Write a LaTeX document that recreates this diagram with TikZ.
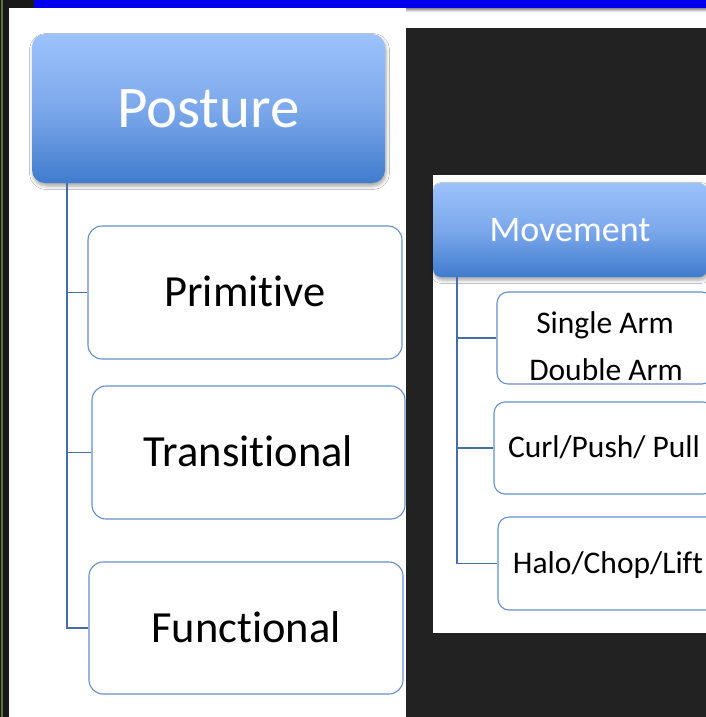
\documentclass[tikz,border=0pt]{standalone}
\usepackage{fontspec}
\setmainfont{Carlito}[Ligatures=NoCommon]
\usetikzlibrary{shadows.blur}

\definecolor{bgdark}{RGB}{34,34,34}
\definecolor{edgedark}{RGB}{24,24,24}
\definecolor{edgegreen}{RGB}{88,118,58}
\definecolor{topbar}{RGB}{0,0,238}
\definecolor{hdrtop}{RGB}{156,194,251}
\definecolor{hdrmid}{RGB}{124,168,235}
\definecolor{hdrbot}{RGB}{64,124,205}
\definecolor{boxline}{RGB}{100,144,205}
\definecolor{connline}{RGB}{70,110,168}

\begin{document}
\begin{tikzpicture}[x=1pt,y=-1pt,
  header/.style={rounded corners=#1, top color=hdrtop, bottom color=hdrbot,
    middle color=hdrmid, draw=none, text=white, inner sep=0pt,
    blur shadow={shadow xshift=1pt, shadow yshift=-3pt,
      shadow blur radius=3.5pt, shadow opacity=35}},
  item/.style={rounded corners=#1, draw=boxline, line width=1.1pt,
    fill=white, text=black, inner sep=0pt},
  conn/.style={draw=connline, line width=1.4pt},
  bigtitle/.style={font=\fontsize{59}{70}\selectfont, text height=37.3pt, text depth=0pt},
  bigitem/.style={font=\fontsize{44.5}{53}\selectfont, text height=28.1pt, text depth=0pt},
  smalltitle/.style={font=\fontsize{36}{43}\selectfont, text height=22.8pt, text depth=0pt},
  smallitem/.style={font=\fontsize{31.5}{38}\selectfont, text height=19.9pt, text depth=0pt},
]
\useasboundingbox (0,0) rectangle (706,717);
\clip (0,0) rectangle (706,717);

% backgrounds
\fill[bgdark] (0,0) rectangle (706,717);
\fill[edgedark] (0,0) rectangle (9,717);
\draw[edgegreen, line width=1.5pt] (2,0) -- (2,717);
\fill[black!90] (9,0) rectangle (34,8);
\fill[white] (9,8) rectangle (406,717);
\fill[white] (406,8) rectangle (706,28);
\shade[top color=black!45, bottom color=white] (406,8) rectangle (706,12);
\fill[topbar] (34,0) rectangle (706,8);
\fill[white] (433,175) rectangle (706,633);

% left tree
\node[header=13pt, bigtitle, minimum width=353pt, minimum height=149pt]
  (posture) at (208.5,108.5) {Posture};
\node[item=14pt, bigitem, minimum width=314pt, minimum height=133pt]
  (prim) at (245,292.5) {Primitive};
\node[item=14pt, bigitem, minimum width=313pt, minimum height=133pt]
  (trans) at (248.5,452.5) {Transitional};
\node[item=14pt, bigitem, minimum width=314pt, minimum height=132pt]
  (func) at (246,628) {Functional};

\coordinate (ltrunk) at ([xshift=35pt]posture.south west);
\draw[conn] (ltrunk) |- (prim.west);
\draw[conn] (ltrunk) |- (trans.west);
\draw[conn] (ltrunk) |- (func.west);

% right tree
\node[header=8pt, smalltitle, minimum width=274pt, minimum height=94pt]
  (move) at (570,230) {Movement};
\node[item=11pt, minimum width=216pt, minimum height=92pt]
  (arm) at (605,338) {};
\node[item=11pt, smallitem, minimum width=220pt, minimum height=92pt]
  (curl) at (604,448) {Curl/Push/ Pull};
\node[item=11pt, smallitem, minimum width=220pt, minimum height=93pt]
  (halo) at (608,563.5) {Halo/Chop/Lift};
\node[anchor=base, font=\fontsize{31.5}{38}\selectfont, inner sep=0pt]
  (single) at (605,333) {Single Arm};
\node[anchor=base, font=\fontsize{31.5}{38}\selectfont, inner sep=0pt]
  (double) at (606,380) {Double Arm};

\coordinate (rtrunk) at ([xshift=24pt]move.south west);
\draw[conn] (rtrunk) |- (arm.west);
\draw[conn] (rtrunk) |- (curl.west);
\draw[conn] (rtrunk) |- (halo.west);
\end{tikzpicture}
\end{document}
